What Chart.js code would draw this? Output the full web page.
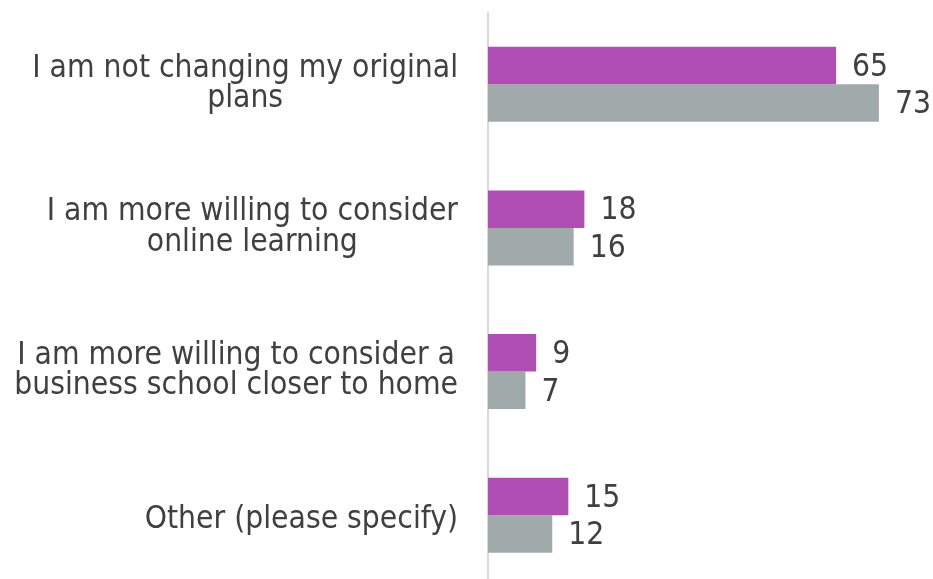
<!DOCTYPE html>
<html>
<head>
<meta charset="utf-8">
<script src="https://cdn.jsdelivr.net/npm/chart.js@4/dist/chart.umd.min.js"></script>
<style>
  html, body { margin: 0; padding: 0; background: #fff; overflow: hidden; }
  #chart { display: block; }
</style>
</head>
<body>
<canvas id="chart" width="933" height="587"></canvas>
<script>
const categories = [
  ['I am not changing my original', 'plans'],
  ['I am more willing to consider', 'online learning'],
  ['I am more willing to consider a', 'business school closer to home'],
  ['Other (please specify)']
];
const seriesPurple = [65, 18, 9, 15];
const seriesGrey = [73, 16, 7, 12];

const FONT = '"DejaVu Sans Condensed", "Liberation Sans", Arial, sans-serif';
const TEXT = '#404040';

// category labels: lines centred on each other, block right-aligned to the axis
const categoryLabels = {
  id: 'categoryLabels',
  afterDraw(chart) {
    const ctx = chart.ctx;
    const y = chart.scales.y;
    const right = y.right - 30;
    ctx.save();
    ctx.font = '31.5px ' + FONT;
    ctx.fillStyle = TEXT;
    ctx.textAlign = 'center';
    ctx.textBaseline = 'alphabetic';
    chart.data.labels.forEach((lines, i) => {
      const cy = y.getPixelForValue(i);
      const w = Math.max(...lines.map(l => ctx.measureText(l).width));
      const cx = right - w / 2;
      const first = cy + 12.6 - (lines.length - 1) * 20.3;
      lines.forEach((l, k) => ctx.fillText(l, cx, first + k * 30.4));
    });
    ctx.restore();
  }
};

// draws the number just past the end of every bar
const valueLabels = {
  id: 'valueLabels',
  afterDatasetsDraw(chart) {
    const ctx = chart.ctx;
    ctx.save();
    ctx.font = '31.5px ' + FONT;
    ctx.fillStyle = TEXT;
    ctx.textAlign = 'left';
    ctx.textBaseline = 'middle';
    chart.data.datasets.forEach((ds, i) => {
      chart.getDatasetMeta(i).data.forEach((bar, j) => {
        ctx.fillText(ds.data[j], bar.x + 16, bar.y + 2);
      });
    });
    ctx.restore();
  }
};

new Chart(document.getElementById('chart').getContext('2d'), {
  type: 'bar',
  data: {
    labels: categories,
    datasets: [
      { label: 'Series 1', data: seriesPurple, backgroundColor: '#AF4FB3', categoryPercentage: 0.523, barPercentage: 1 },
      { label: 'Series 2', data: seriesGrey, backgroundColor: '#A0AAAA', categoryPercentage: 0.523, barPercentage: 1 }
    ]
  },
  options: {
    indexAxis: 'y',
    responsive: false,
    animation: false,
    layout: { padding: { top: 12.5, right: 16.6, bottom: 0, left: 0 } },
    scales: {
      x: { display: false, min: 0, max: 80 },
      y: {
        grid: { display: false, drawTicks: false },
        border: { display: true, color: '#D9D9D9', width: 2 },
        ticks: { display: false },
        afterFit(scale) {
          scale.width = 488;
          scale.paddingTop = 0;
          scale.paddingBottom = 0;
        }
      }
    },
    plugins: {
      legend: { display: false },
      tooltip: { enabled: false }
    }
  },
  plugins: [valueLabels, categoryLabels]
});
</script>
</body>
</html>
